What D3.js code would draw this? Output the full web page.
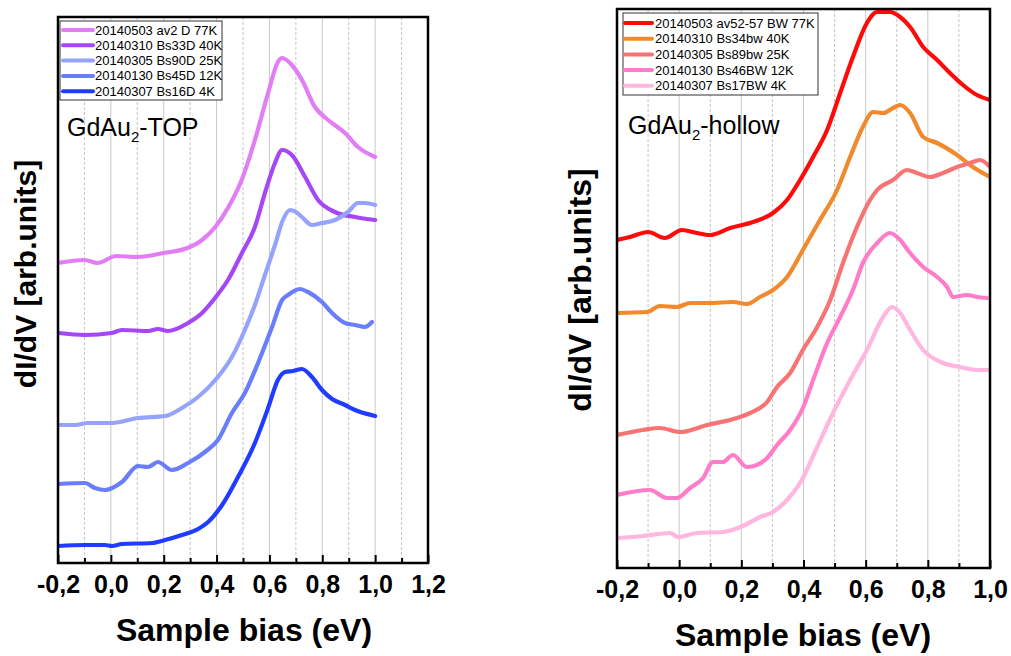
<!DOCTYPE html>
<html>
<head>
<meta charset="utf-8">
<script src="https://cdn.jsdelivr.net/npm/d3@7"></script>
<style>
body { margin: 0; background: #fff; }
svg { display: block; font-family: "Liberation Sans", Arial, sans-serif; }
</style>
</head>
<body>
<svg width="1011" height="656"></svg>
<script>
// ---- GdAu2-TOP (left panel), bias in eV, dI/dV in arb. units ----
var topNames = ["20140503 av2 D 77K", "20140310 Bs33D 40K", "20140305 Bs90D 25K", "20140130 Bs45D 12K", "20140307 Bs16D 4K"];

var top77x = [-0.2,-0.10,-0.05,0.02,0.10,0.20,0.29,0.345,0.395,0.445,0.495,0.545,0.595,0.632,0.648,0.685,0.723,0.772,0.822,0.886,0.935,1.0];
var top77y = [60,60.6,60,61.4,61.2,62,63,64.6,67.2,71.2,76.6,84.6,94,100.2,101,99.6,96.6,91.2,88.6,86,83.2,81.2];

var top40x = [-0.2,-0.098,0.004,0.042,0.141,0.178,0.216,0.292,0.345,0.394,0.443,0.496,0.545,0.583,0.621,0.648,0.685,0.735,0.784,0.848,0.924,1.0];
var top40y = [46,45.6,46,46.6,46.4,46.8,46.4,48,50,53,56.6,62,67.2,74,80,82.6,81.6,77.2,72.6,70.2,69.2,68.6];

var top25x = [-0.2,-0.136,-0.086,0.004,0.103,0.205,0.269,0.330,0.405,0.458,0.507,0.545,0.583,0.621,0.651,0.678,0.700,0.723,0.760,0.799,0.848,0.897,0.935,0.961,1.0];
var top25y = [27.6,27.6,28,28,29,29.4,31,33.2,37.2,41.2,46.6,51.6,57.6,63.6,68.6,70.6,70.2,69.2,67.6,68,68.6,70.2,72,72,71.6];

var top12x = [-0.2,-0.098,-0.060,-0.022,0.042,0.103,0.141,0.178,0.231,0.292,0.356,0.405,0.458,0.507,0.557,0.610,0.648,0.670,0.716,0.746,0.799,0.837,0.886,0.924,0.961,0.988];
var top12y = [15.8,16,15,14.6,16.2,19.4,19.2,20.2,18.6,20,22.2,24.6,30,34,40,47.2,52.6,53.6,54.8,54.2,52.2,50,48,47.6,47.2,48.2];

var top4x = [-0.2,-0.098,-0.022,0.004,0.042,0.156,0.205,0.269,0.330,0.368,0.421,0.481,0.545,0.595,0.632,0.659,0.690,0.723,0.761,0.799,0.837,0.886,0.924,1.0];
var top4y = [3.4,3.6,3.6,3.4,3.8,4,4.6,5.6,6.8,8.2,11.6,17.2,24,31,36.6,38.2,38.4,38.8,37.2,34.6,32.8,31.6,30.6,29.4];

// ---- GdAu2-hollow (right panel) ----
var hollowNames = ["20140503 av52-57 BW 77K", "20140310 Bs34bw 40K", "20140305 Bs89bw 25K", "20140130 Bs46BW 12K", "20140307 Bs17BW 4K"];

var hol77x = [-0.2,-0.158,-0.100,-0.046,0.009,0.057,0.099,0.164,0.238,0.302,0.347,0.389,0.431,0.476,0.518,0.559,0.604,0.637,0.678,0.711,0.743,0.785,0.830,0.871,0.913,0.958,1.0];
var hol77y = [65.6,66.2,67.2,66,67.6,67,66.6,68,69.2,71,73.6,77.6,82.2,87.6,95,102.2,109,111.2,111.2,110.2,108.2,104.2,101.6,99,96.6,94.6,93.6];

var hol40x = [-0.2,-0.103,-0.062,-0.007,0.035,0.099,0.173,0.218,0.260,0.302,0.347,0.398,0.453,0.508,0.550,0.591,0.624,0.656,0.688,0.711,0.743,0.785,0.830,0.894,0.945,1.0];
var hol40y = [51,51.2,52.4,52.2,53,53,53.2,52.8,54.2,55.6,58.2,63.6,69.6,75.6,82.2,88.2,91.2,91,92,92.6,91,86.2,85,82.6,80.2,78.2];

var hol25x = [-0.2,-0.116,-0.062,0.003,0.090,0.186,0.228,0.283,0.315,0.357,0.398,0.444,0.486,0.527,0.572,0.614,0.637,0.688,0.733,0.765,0.807,0.849,0.894,0.936,0.968,1.0];
var hol25y = [26.6,27.6,28,27.2,28.6,30,31,33.2,36.2,39,43.6,48.2,53.6,61,68.2,73.6,75.6,77.6,79.6,79,78.2,79,80.2,81,81.6,80.2];

var hol12x = [-0.2,-0.094,-0.039,-0.007,0.035,0.077,0.109,0.141,0.173,0.218,0.250,0.283,0.315,0.357,0.398,0.431,0.476,0.518,0.559,0.591,0.637,0.678,0.711,0.743,0.785,0.830,0.862,0.881,0.926,0.958,0.990];
var hol12y = [14.6,15.6,14,14,16,18,21.2,21.2,22.6,20.2,20.6,22,24.6,27.6,32,37.6,45,50.2,55.6,61,65,67,65.6,63,60.2,58.2,56.2,54.2,54.6,54.2,54];

var hol4x = [-0.2,-0.116,-0.029,-0.004,0.057,0.141,0.205,0.260,0.302,0.347,0.389,0.444,0.495,0.550,0.604,0.656,0.685,0.711,0.743,0.785,0.849,0.904,0.958,1.0];
var hol4y = [6,6.4,7,6.2,7,7.2,8.4,10.2,11.2,13.6,17,24.2,31,37.6,43.6,50.2,52.2,51,47.6,43.6,41,40.2,39.6,39.6];

var topTicks = [-0.2, 0.0, 0.2, 0.4, 0.6, 0.8, 1.0, 1.2];
var hollowTicks = [-0.2, 0.0, 0.2, 0.4, 0.6, 0.8, 1.0];

var svg = d3.select("svg");

function zip(xs, ys) {
	return xs.map(function(v, i) { return [v, ys[i]]; });
}

function fmt(d) {
	return (d < 0 ? "-" : "") + Math.abs(d).toFixed(1).replace(".", ",");
}

var panels = [
	{
		id: "top", left: 58, right: 428, top: 17, bottom: 563, yMax: 109.2,
		ticks: topTicks, names: topNames,
		series: [zip(top77x, top77y), zip(top40x, top40y), zip(top25x, top25y), zip(top12x, top12y), zip(top4x, top4y)],
		colors: ["#e27df6", "#a547f4", "#95a3fd", "#6a7efc", "#1f3cff"],
		legend: { x: 60, y: 21, w: 162, h: 79, row0: 30, step: 15.3, lx1: 63, lx2: 93, tx: 95 },
		label: { x: 67, y: 136, main: "GdAu", sub: "2", rest: "-TOP" },
		ylab: { x: 36, y: 274, size: 30 },
		xlab: { x: 244, y: 641 }
	},
	{
		id: "hollow", left: 617, right: 990, top: 9, bottom: 568, yMax: 111.8,
		ticks: hollowTicks, names: hollowNames,
		series: [zip(hol77x, hol77y), zip(hol40x, hol40y), zip(hol25x, hol25y), zip(hol12x, hol12y), zip(hol4x, hol4y)],
		colors: ["#ff0a0a", "#f08a2c", "#f87474", "#ff7dc8", "#ffb6df"],
		legend: { x: 623, y: 13, w: 195, h: 82, row0: 23, step: 15.7, lx1: 625, lx2: 652, tx: 655 },
		label: { x: 628, y: 134, main: "GdAu", sub: "2", rest: "-hollow" },
		ylab: { x: 591, y: 290, size: 32 },
		xlab: { x: 803, y: 646 }
	}
];

panels.forEach(function(p) {
	var xMax = p.ticks[p.ticks.length - 1];
	var x = d3.scaleLinear().domain([-0.2, xMax]).range([p.left, p.right]);
	var y = d3.scaleLinear().domain([0, p.yMax]).range([p.bottom, p.top]);

	var g = svg.append("g").attr("class", "panel-" + p.id);

	// grid: solid at 0.2 steps, dashed in between
	var minors = p.ticks.slice(0, -1).map(function(d) { return Math.round((d + 0.1) * 10) / 10; });
	var majorsIn = p.ticks.slice(1, -1);

	g.selectAll(".gmaj").data(majorsIn).enter().append("line")
		.attr("x1", x).attr("x2", x).attr("y1", p.top).attr("y2", p.bottom)
		.attr("stroke", "#c9c9c9").attr("stroke-width", 1);
	g.selectAll(".gmin").data(minors).enter().append("line")
		.attr("x1", x).attr("x2", x).attr("y1", p.top).attr("y2", p.bottom)
		.attr("stroke", "#b5b5b5").attr("stroke-width", 0.8).attr("stroke-dasharray", "3,2");

	// curves
	g.append("clipPath").attr("id", "clip-" + p.id)
		.append("rect").attr("x", p.left).attr("y", p.top)
		.attr("width", p.right - p.left).attr("height", p.bottom - p.top);

	var line = d3.line()
		.x(function(d) { return x(d[0]); })
		.y(function(d) { return y(d[1]); })
		.curve(d3.curveMonotoneX);

	g.append("g").attr("clip-path", "url(#clip-" + p.id + ")")
		.selectAll("path").data(p.series).enter().append("path")
		.attr("d", line)
		.attr("fill", "none")
		.attr("stroke", function(d, i) { return p.colors[i]; })
		.attr("stroke-width", 4.2)
		.attr("stroke-linejoin", "round")
		.attr("stroke-linecap", "round");

	// axes (ticks inside)
	var ax = g.append("g").attr("transform", "translate(0," + p.bottom + ")")
		.call(d3.axisBottom(x).tickValues(p.ticks).tickSize(-8).tickPadding(12).tickFormat(fmt));
	ax.select(".domain").remove();
	ax.selectAll(".tick line").attr("stroke", "#000").attr("stroke-width", 2);
	ax.selectAll("text").attr("font-size", 25).attr("font-weight", "bold").attr("fill", "#000");

	var axm = g.append("g").attr("transform", "translate(0," + p.bottom + ")")
		.call(d3.axisBottom(x).tickValues(minors).tickSize(-5).tickFormat(""));
	axm.select(".domain").remove();
	axm.selectAll(".tick line").attr("stroke", "#000").attr("stroke-width", 2);

	// frame
	g.append("rect")
		.attr("x", p.left).attr("y", p.top)
		.attr("width", p.right - p.left).attr("height", p.bottom - p.top)
		.attr("fill", "none").attr("stroke", "#000").attr("stroke-width", 2.5);

	// legend
	var L = p.legend;
	var leg = g.append("g").attr("class", "legend");
	leg.append("rect").attr("x", L.x).attr("y", L.y).attr("width", L.w).attr("height", L.h)
		.attr("fill", "#fff").attr("stroke", "#333").attr("stroke-width", 1);
	var rows = leg.selectAll(".row").data(p.names).enter().append("g")
		.attr("transform", function(d, i) { return "translate(0," + (L.row0 + i * L.step) + ")"; });
	rows.append("line").attr("x1", L.lx1).attr("x2", L.lx2).attr("y1", 0).attr("y2", 0)
		.attr("stroke", function(d, i) { return p.colors[i]; }).attr("stroke-width", 4)
		.attr("stroke-linecap", "round");
	rows.append("text").attr("x", L.tx).attr("y", 4.5).attr("font-size", 13).text(function(d) { return d; });

	// sample label
	var lab = g.append("text").attr("x", p.label.x).attr("y", p.label.y).attr("font-size", 25);
	lab.append("tspan").text(p.label.main);
	lab.append("tspan").attr("font-size", 15).attr("dy", 6).text(p.label.sub);
	lab.append("tspan").attr("dy", -6).text(p.label.rest);

	// axis titles
	g.append("text").attr("x", p.xlab.x).attr("y", p.xlab.y).attr("text-anchor", "middle")
		.attr("font-size", 32).attr("font-weight", "bold").text("Sample bias (eV)");
	g.append("text").attr("transform", "translate(" + p.ylab.x + "," + p.ylab.y + ") rotate(-90)")
		.attr("text-anchor", "middle").attr("font-size", p.ylab.size).attr("font-weight", "bold")
		.text("dI/dV [arb.units]");
});
</script>
</body>
</html>
